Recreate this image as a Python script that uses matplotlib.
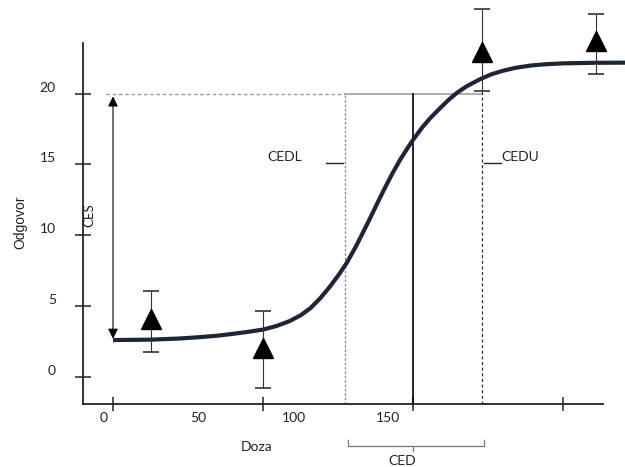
import matplotlib
matplotlib.use('Agg')
import matplotlib.pyplot as plt
from matplotlib.transforms import ScaledTranslation

# Observed means with asymmetric error bars
dose_obs = [25, 84, 199, 259]
resp_obs = [4.1, 2.05, 22.9, 23.7]
err_low = [2.3, 2.8, 2.7, 2.35]
err_high = [1.95, 2.6, 3.05, 1.9]

curve_dose = [5, 25, 40, 51, 60, 67, 75, 84, 91, 98, 104, 109, 114, 119,
              124, 128, 133, 139, 143, 147, 152, 156, 160, 163, 168, 172,
              177, 182, 186, 191, 198, 204, 210, 217, 225, 233, 242, 258, 275]
curve_resp = [2.61, 2.64, 2.72, 2.82, 2.92, 3.03, 3.17, 3.35, 3.60, 3.95,
              4.38, 4.87, 5.55, 6.35, 7.25, 8.05, 9.25, 10.85, 11.95, 13.05,
              14.35, 15.30, 16.15, 16.75, 17.65, 18.27, 18.95, 19.60, 20.05,
              20.50, 21.00, 21.35, 21.60, 21.82, 21.98, 22.07, 22.13, 22.17,
              22.18]

# Benchmark quantities
ced = 163
cedl = 127
cedu = 199
ces_level = 20
background = 2.7

x_labels = [0, 50, 100, 150]
x_marks = [5, 84, 163, 242]
y_ticks = [0, 5, 10, 15, 20]

fig = plt.figure(figsize=(6.25, 4.67), dpi=100)
ax = fig.add_axes([83/625, 63/467, 542/625, 404/467])
ax.set_xlim(-10.8, 274.5)
ax.set_ylim(-1.9, 26.6)

for s in ['top', 'right']:
    ax.spines[s].set_visible(False)
for s in ['left', 'bottom']:
    ax.spines[s].set_linewidth(1.3)
    ax.spines[s].set_color('#222222')
ax.spines['left'].set_bounds(-1.9, 23.55)
ax.spines['bottom'].set_bounds(-10.8, 263)

lab_font = dict(family='Lato', size=10, color='#222222')

# x axis: labels without marks, marks without labels
ax.set_xticks(x_labels)
ax.set_xticklabels([str(v) for v in x_labels], **lab_font)
ax.tick_params(axis='x', which='major', length=0, pad=6)
ax.set_xticks(x_marks, minor=True)
ax.tick_params(axis='x', which='minor', direction='inout', length=10,
               width=1.1, color='#222222')

ax.set_yticks(y_ticks)
ax.set_yticklabels([str(v) for v in y_ticks], **lab_font)
ax.tick_params(axis='y', which='major', direction='inout', length=11,
               width=1.1, color='#222222', pad=14)
shift = ScaledTranslation(0, 7/100, fig.dpi_scale_trans)
for lbl in ax.get_yticklabels():
    lbl.set_transform(lbl.get_transform() + shift)

# reference lines
ax.plot([1.4, cedl], [ces_level, ces_level], color='#999999', lw=1.0,
        ls=(0, (2.5, 2)))
ax.plot([cedl, cedu], [ces_level, ces_level], color='#999999', lw=1.1)
ax.plot([cedl, cedl], [-1.9, ces_level], color='#888888', lw=0.9,
        ls=(0, (2, 1.5)))
ax.plot([cedu, cedu], [-1.9, resp_obs[2] - err_low[2]], color='#333333',
        lw=0.9, ls=(0, (2.5, 2)))
ax.plot([ced, ced], [-1.9, ces_level], color='black', lw=1.2)

# CES arrow
ax.annotate('', xy=(5, ces_level - 0.2), xytext=(5, background),
            arrowprops=dict(arrowstyle='<|-|>,head_length=0.6,head_width=0.3',
                            mutation_scale=10, color='black', lw=0.8,
                            shrinkA=0, shrinkB=0))
ax.text(-7.6, 11.4, 'CES', rotation=90, ha='center', va='center',
        family='Lato', size=9.5, color='#222222')

# CEDL / CEDU markers
ax.plot([117, 126], [15.1, 15.1], color='#222222', lw=1.0)
ax.plot([200.3, 209.2], [15.1, 15.1], color='#222222', lw=1.0)
ax.text(86, 15.5, 'CEDL', ha='left', va='center', **lab_font)
ax.text(209.2, 15.5, 'CEDU', ha='left', va='center', **lab_font)

# curve and observations
ax.plot(curve_dose, curve_resp, color='#1e2636', lw=3.0,
        solid_capstyle='butt', solid_joinstyle='round', zorder=3)
ax.errorbar(dose_obs, resp_obs, yerr=[err_low, err_high], fmt='none',
            ecolor='#333333', elinewidth=0.8, capsize=6, capthick=1.2,
            zorder=4)
ax.plot(dose_obs, resp_obs, ls='none', marker='^', markersize=15,
        color='black', zorder=5)

# bracket under the axis marking the CED interval
ax.plot([cedl + 1.5, cedl + 1.5, cedu + 1.5, cedu + 1.5],
        [-4.44, -4.87, -4.87, -4.44], color='#777777', lw=0.9, clip_on=False)
ax.plot([ced, ced], [-4.87, -5.22], color='#777777', lw=0.9, clip_on=False)
ax.text(157, -5.92, 'CED', ha='center', va='center', clip_on=False,
        **lab_font)
ax.text(80.3, -4.94, 'Doza', ha='center', va='center', clip_on=False,
        **lab_font)

fig.text(20/625, 1 - 222/467, 'Odgovor', rotation=90, ha='center',
         va='center', family='Liberation Sans', size=10, color='#222222')

fig.savefig('out.png', dpi=100)
